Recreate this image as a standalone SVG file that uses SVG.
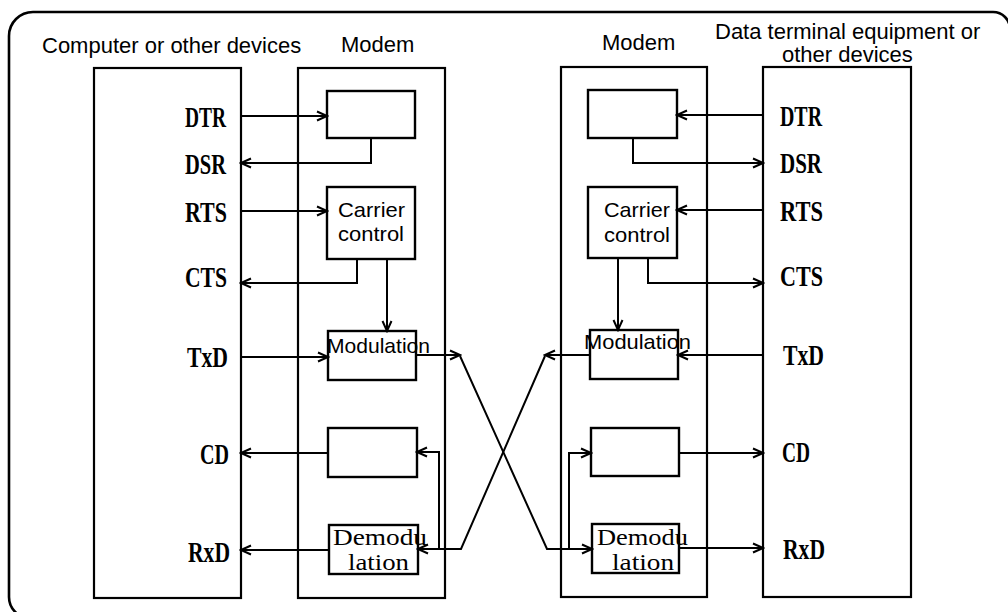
<svg xmlns="http://www.w3.org/2000/svg" width="1008" height="612" viewBox="0 0 1008 612">
<style>
.frame{fill:none;stroke:#000;stroke-width:2.6}
.box{fill:#fff;stroke:#000;stroke-width:2.2}
.ibox{fill:#fff;stroke:#000;stroke-width:2.4}
.con{fill:none;stroke:#000;stroke-width:2;marker-end:url(#arr)}
.title{font-family:"Liberation Sans",Arial,sans-serif;font-size:22px;fill:#000}
.lbl{font-family:"Liberation Sans",Arial,sans-serif;font-size:21px;fill:#000}
.ser{font-family:"Liberation Serif","Times New Roman",serif;font-size:24px;fill:#000}
.sig{font-family:"Liberation Serif","Times New Roman",serif;font-weight:bold;font-size:30px;fill:#000}
</style>
<defs>
<marker id="arr" markerUnits="userSpaceOnUse" markerWidth="14" markerHeight="14" viewBox="-2 -7 14 14" refX="10" refY="0" orient="auto">
<path d="M0,-4.5 L10,0 L0,4.5" fill="none" stroke="#000" stroke-width="2"/>
</marker>
</defs>
<rect width="1008" height="612" fill="#fff"/>
<path class="frame" d="M30,618 A21,21 0 0 1 9,597 V36 A24,24 0 0 1 33,12 H993 A17,17 0 0 1 1010,29"/>

<g id="titles">
<text class="title" x="42" y="53">Computer or other devices</text>
<text class="title" x="341" y="52">Modem</text>
<text class="title" x="602" y="50">Modem</text>
<text class="title" x="715" y="39">Data terminal equipment or</text>
<text class="title" x="782" y="62">other devices</text>
</g>

<g id="computer">
<rect class="box" x="94" y="68" width="147" height="530"/>
<text class="sig" x="185" y="127" textLength="41" lengthAdjust="spacingAndGlyphs">DTR</text>
<text class="sig" x="185" y="174" textLength="41" lengthAdjust="spacingAndGlyphs">DSR</text>
<text class="sig" x="185" y="222" textLength="42" lengthAdjust="spacingAndGlyphs">RTS</text>
<text class="sig" x="185" y="287" textLength="42" lengthAdjust="spacingAndGlyphs">CTS</text>
<text class="sig" x="187" y="367" textLength="41" lengthAdjust="spacingAndGlyphs">TxD</text>
<text class="sig" x="200" y="464" textLength="29" lengthAdjust="spacingAndGlyphs">CD</text>
<text class="sig" x="188" y="562" textLength="42" lengthAdjust="spacingAndGlyphs">RxD</text>
</g>

<g id="modem-left">
<rect class="box" x="298" y="68" width="147" height="530"/>
</g>

<g id="modem-right">
<rect class="box" x="561" y="67" width="146" height="530"/>
</g>

<g id="terminal">
<rect class="box" x="763" y="67" width="148" height="530"/>
<text class="sig" x="780" y="126" textLength="42" lengthAdjust="spacingAndGlyphs">DTR</text>
<text class="sig" x="780" y="173" textLength="42" lengthAdjust="spacingAndGlyphs">DSR</text>
<text class="sig" x="780" y="221" textLength="43" lengthAdjust="spacingAndGlyphs">RTS</text>
<text class="sig" x="780" y="286" textLength="43" lengthAdjust="spacingAndGlyphs">CTS</text>
<text class="sig" x="783" y="365" textLength="41" lengthAdjust="spacingAndGlyphs">TxD</text>
<text class="sig" x="782" y="462" textLength="28" lengthAdjust="spacingAndGlyphs">CD</text>
<text class="sig" x="783" y="559" textLength="42" lengthAdjust="spacingAndGlyphs">RxD</text>
</g>

<g id="l-dsr-block"><rect class="ibox" x="327" y="91" width="88" height="47"/></g>
<g id="l-carrier"><rect class="ibox" x="327" y="187" width="88" height="72"/>
<text class="lbl" x="338" y="217" textLength="67" lengthAdjust="spacingAndGlyphs">Carrier</text>
<text class="lbl" x="338" y="241" textLength="66" lengthAdjust="spacingAndGlyphs">control</text></g>
<g id="l-modulation"><rect class="ibox" x="328" y="331" width="88" height="49"/></g>
<g id="l-cd-block"><rect class="ibox" x="328" y="428" width="89" height="49"/></g>
<g id="l-demod"><rect class="ibox" x="329" y="525" width="89" height="49"/></g>

<g id="r-dsr-block"><rect class="ibox" x="588" y="90" width="89" height="48"/></g>
<g id="r-carrier"><rect class="ibox" x="588" y="187" width="89" height="71"/>
<text class="lbl" x="604" y="217" textLength="66" lengthAdjust="spacingAndGlyphs">Carrier</text>
<text class="lbl" x="604" y="242" textLength="66" lengthAdjust="spacingAndGlyphs">control</text></g>
<g id="r-modulation"><rect class="ibox" x="590" y="330" width="88" height="49"/></g>
<g id="r-cd-block"><rect class="ibox" x="591" y="428" width="88" height="48"/></g>
<g id="r-demod"><rect class="ibox" x="592" y="524" width="87" height="49"/></g>

<g id="connectors">
<path class="con" d="M241,116 H327"/>
<path class="con" d="M371,138 V163 H241"/>
<path class="con" d="M241,211 H327"/>
<path class="con" d="M357,259 V283 H241"/>
<path class="con" d="M387,259 V331"/>
<path class="con" d="M241,357 H328"/>
<path class="con" d="M328,453 H241"/>
<path class="con" d="M329,550 H241"/>
<path class="con" d="M416,355 H460"/>
<path class="con" d="M460,356 L547,549 H592"/>
<path class="con" d="M545,356 L461,549 H418"/>
<path class="con" d="M439,549 V452 H417"/>
<path class="con" d="M763,115 H677"/>
<path class="con" d="M633,138 V163 H763"/>
<path class="con" d="M763,210 H677"/>
<path class="con" d="M648,258 V283 H763"/>
<path class="con" d="M618,258 V330"/>
<path class="con" d="M763,355 H678"/>
<path class="con" d="M590,355 H545"/>
<path class="con" d="M679,453 H763"/>
<path class="con" d="M569,549 V453 H591"/>
<path class="con" d="M679,548 H763"/>
</g>

<g id="box-texts">
<text class="lbl" x="327" y="353" textLength="103" lengthAdjust="spacingAndGlyphs">Modulation</text>
<text class="lbl" x="584" y="349" textLength="107" lengthAdjust="spacingAndGlyphs">Modulation</text>
<text class="ser" x="333" y="545" textLength="94" lengthAdjust="spacingAndGlyphs">Demodu</text>
<text class="ser" x="348" y="570" textLength="61" lengthAdjust="spacingAndGlyphs">lation</text>
<text class="ser" x="597" y="545" textLength="91" lengthAdjust="spacingAndGlyphs">Demodu</text>
<text class="ser" x="612" y="570" textLength="62" lengthAdjust="spacingAndGlyphs">lation</text>
</g>
</svg>
